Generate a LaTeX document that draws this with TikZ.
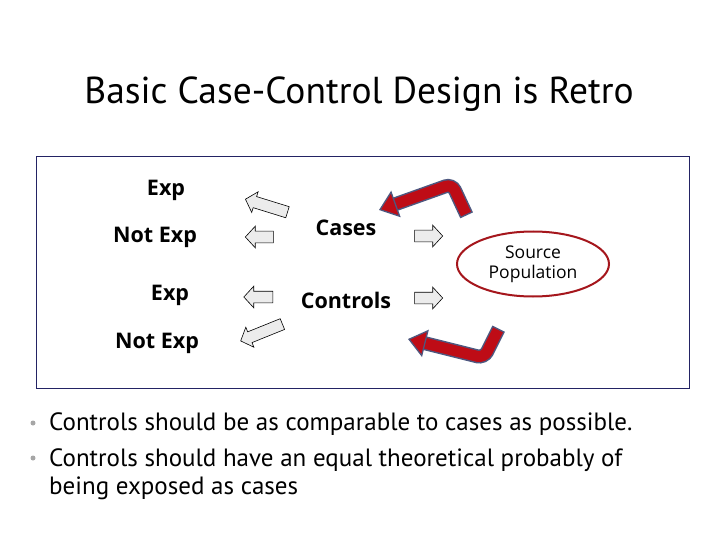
\documentclass[tikz,border=0pt]{standalone}
\usepackage{fontspec}
\setmainfont{PT Sans}
\newfontfamily\labfont{Open Sans}
\usetikzlibrary{arrows.meta,shapes.geometric,shapes.arrows}
\definecolor{cRed}{RGB}{190,12,22}
\definecolor{cEdge}{RGB}{78,88,128}
\definecolor{cRing}{RGB}{165,22,28}
\definecolor{cFrame}{RGB}{35,35,100}
\definecolor{cBlock}{RGB}{236,236,236}
\tikzset{
  ttl/.style    ={anchor=base, font=\fontsize{37.5}{44}\selectfont},
  grp/.style    ={anchor=base, font=\labfont\fontsize{21.5}{26}\selectfont\bfseries},
  txt/.style    ={anchor=base west, align=left, inner sep=0pt, font=\fontsize{25}{28}\selectfont},
  src/.style    ={ellipse, draw=cRing, line width=2pt, minimum width=152pt, minimum height=65pt,
                  inner sep=0pt, align=center, font=\labfont\fontsize{17.5}{20}\selectfont},
  blk/.style    ={single arrow, draw=black, line width=0.6pt, fill=cBlock, inner xsep=0pt, inner ysep=5.5pt,
                  single arrow head extend=5pt, single arrow tip angle=95},
  dot/.style    ={circle, fill=black!35, inner sep=0pt, minimum size=5pt},
  frame/.style  ={draw=cFrame, line width=0.9pt},
  redbed/.style ={draw=cEdge, line width=14pt, rounded corners=7pt, shorten >=14pt, shorten <=-1.5pt},
  redarw/.style ={draw=cRed, line width=11pt, rounded corners=7pt,
                  -{Triangle[length=18pt,width=28pt,fill=cRed,color=cEdge,line width=1.3pt]}},
}

\begin{document}
\begin{tikzpicture}[x=1pt,y=-1pt]
\useasboundingbox[fill=white] (0,0) rectangle (720,540);

% ---- title and frame ----
\node[ttl] (title) at (359,104) {Basic Case-Control Design is Retro};
\draw[frame] (36,156) rectangle (689,388);

% ---- exposure groups ----
\node[grp] (exp1) at (166,196) {Exp};
\node[grp] (nexp1) at (155,242) {Not Exp};
\node[grp] (exp2) at (170,300) {Exp};
\node[grp] (nexp2) at (157,348) {Not Exp};

\node[grp] (cases) at (346,236) {Cases};
\node[grp] (ctrls) at (346,308) {Controls};

% ---- block arrows ----
\node[blk, minimum height=44pt, rotate=162.8] (a1) at (269,206.5) {};
\node[blk, minimum height=28pt, rotate=180] (a2) at (262,237) {};
\node[blk, minimum height=29pt, rotate=180] (a3) at (261,297) {};
\node[blk, minimum height=45pt, rotate=202] (a4) at (264,331.5) {};
\node[blk, minimum height=28pt] (a5) at (426,236) {};
\node[blk, minimum height=28pt] (a6) at (426,298) {};

% ---- source population ----
\node[src] (pop) at (533,264) {Source\\Population};

\coordinate (u1) at (466,214);
\coordinate (u2) at (452,184);
\coordinate (u3) at (379,210);
\coordinate (l1) at (498,330);
\coordinate (l2) at (484,358);
\coordinate (l3) at (408,339);
\foreach \p/\q/\r in {u1/u2/u3, l1/l2/l3} {
  \draw[redbed] (\p) -- (\q) -- (\r);
  \draw[redarw] (\p) -- (\q) -- (\r);
}

% ---- notes ----
\node[dot] (d1) at (33,423) {};
\node[dot] (d2) at (33,458) {};
\node[txt] (n1) at (49,430) {Controls should be as comparable to cases as possible.};
\node[txt] (n2) at (49,494) {Controls should have an equal theoretical probably of\\being exposed as cases};

\end{tikzpicture}
\end{document}
